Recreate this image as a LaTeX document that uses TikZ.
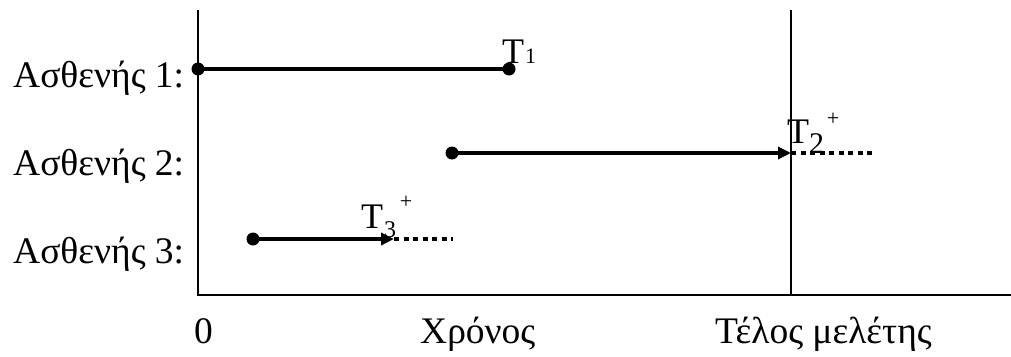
\documentclass[tikz,border=0pt]{standalone}
\usepackage{fontspec}
\setmainfont{Liberation Serif}
\usetikzlibrary{arrows.meta}
\begin{document}
\begin{tikzpicture}[x=1pt,y=-1pt,
  axis/.style={line width=2.8pt},
  fup/.style={line width=4pt},
  cens/.style={line width=4pt,dash pattern=on 5pt off 4.5pt},
  dotpt/.style={circle,fill=black,inner sep=0pt,minimum size=13pt},
  lab/.style={font=\fontsize{37.5}{44}\selectfont,inner sep=0pt,anchor=base west},
  tlab/.style={font=\fontsize{36}{42}\selectfont,inner sep=0pt,anchor=base west},
  sub/.style={font=\fontsize{#1}{30}\selectfont,inner sep=0pt,anchor=base west},
  sup/.style={font=\fontsize{22}{26}\selectfont,inner sep=0pt}]
\useasboundingbox (0,0) rectangle (1011,356);
% axes
\coordinate (ytop) at (198,10);
\coordinate (orig) at (198,295);
\coordinate (xend) at (1011,295);
\coordinate (etop) at (791,10);
\coordinate (ebot) at (791,295);
\draw[axis] (ytop) -- (orig) -- (xend);
\draw[line width=2.2pt] (etop) -- (ebot);
% patient 1
\node[dotpt] (a1) at (198,69) {};
\node[dotpt] (b1) at (509,69) {};
\draw[fup] (a1.center) -- (b1.center);
\node[tlab] (t1) at (502,63) {T};
\node[sub=22] (s1) at (525,63) {1};
% patient 2
\node[dotpt] (a2) at (452,153) {};
\coordinate (b2) at (791,153);
\coordinate (c2) at (876,153);
\draw[fup,-{Triangle[length=13pt,width=12pt]}] (a2.center) -- (b2);
\draw[cens] (b2) -- (c2);
\node[tlab] (t2) at (787,143) {T};
\node[sub=30] (s2) at (809,153) {2};
\node[sup] (p2s) at (833,119) {+};
% patient 3
\node[dotpt] (a3) at (253,239) {};
\coordinate (b3) at (394,239);
\coordinate (c3) at (453,239);
\draw[fup,-{Triangle[length=13pt,width=12pt]}] (a3.center) -- (b3);
\draw[cens] (b3) -- (c3);
\node[tlab] (t3) at (361,228) {T};
\node[sub=24] (s3) at (384,237) {3};
\node[sup] (p3s) at (406,202) {+};
% left labels
\node[lab] (p1) at (13,87) {Ασθενής 1:};
\node[lab] (p2) at (13,175) {Ασθενής 2:};
\node[lab] (p3) at (13,263) {Ασθενής 3:};
% bottom labels
\node[lab] (z) at (194,343) {0};
\node[lab] (x) at (420,343) {Χρόνος};
\node[lab] (e) at (715,343) {Τέλος μελέτης};
\end{tikzpicture}
\end{document}
